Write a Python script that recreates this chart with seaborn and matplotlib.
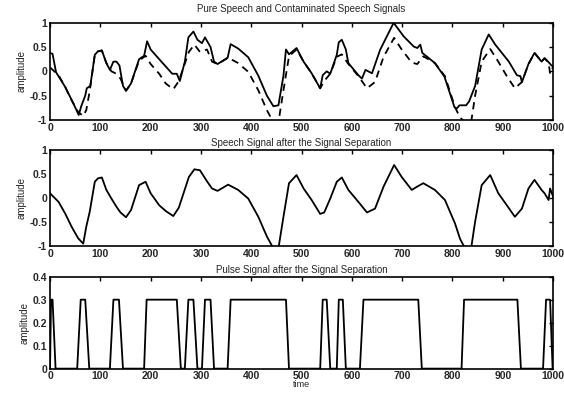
import pandas as pd
import matplotlib.pyplot as plt
import seaborn as sns

# pure speech (dashed, top) and separated speech (middle) share a time grid
speech_t = [0, 17, 30, 43, 56, 66, 72, 79, 89, 95, 103, 112, 122, 132, 140, 151, 161,
            177, 190, 200, 217, 230, 245, 256, 276, 287, 298, 312, 322, 333, 354, 374,
            394, 414, 431, 444, 454, 464, 475, 490, 504, 520, 537, 545, 557, 570, 580,
            593, 613, 630, 646, 663, 684, 699, 719, 730, 742, 765, 785, 805, 815, 825,
            837, 845, 858, 875, 891, 908, 924, 938, 951, 963, 977, 983, 991, 994, 1000]
pure_speech = [0.08, -0.08, -0.32, -0.6, -0.84, -0.92, -0.8, -0.4, 0.34, 0.41, 0.43, 0.17,
               0.0, -0.05, -0.15, -0.4, -0.25, 0.22, 0.32, 0.15, -0.05, -0.25, -0.37, -0.2,
               0.4, 0.55, 0.4, 0.45, 0.2, 0.15, 0.28, 0.17, -0.01, -0.39, -0.8, -1.05,
               -1.05, -0.39, 0.31, 0.45, 0.2, -0.04, -0.35, -0.2, -0.05, 0.3, 0.35, 0.15,
               -0.1, -0.35, -0.22, 0.3, 0.69, 0.45, 0.18, 0.15, 0.31, 0.17, -0.1, -0.74,
               -0.95, -1.05, -1.05, -0.5, 0.2, 0.46, 0.2, -0.1, -0.35, -0.22, 0.15, 0.38,
               0.2, 0.27, 0.18, -0.05, 0.1]
separated_speech = [0.1, -0.08, -0.32, -0.6, -0.84, -0.95, -0.6, -0.28, 0.34, 0.41, 0.43,
                    0.17, -0.01, -0.18, -0.3, -0.4, -0.25, 0.27, 0.34, 0.1, -0.15, -0.27,
                    -0.375, -0.2, 0.44, 0.6, 0.58, 0.35, 0.2, 0.15, 0.28, 0.17, -0.01, -0.39,
                    -0.8, -1.05, -1.05, -0.39, 0.31, 0.48, 0.2, -0.04, -0.33, -0.3, -0.01,
                    0.34, 0.43, 0.17, -0.08, -0.3, -0.22, 0.24, 0.69, 0.44, 0.17, 0.24, 0.31,
                    0.17, -0.04, -0.53, -0.85, -1.05, -1.05, -0.49, 0.27, 0.48, 0.1, -0.15,
                    -0.39, -0.22, 0.2, 0.38, 0.17, 0.1, -0.04, 0.2, 0.03]

# contaminated speech (solid, top)
mixed_t = [0, 5, 12, 30, 45, 57, 62, 70, 73, 80, 89, 95, 103, 112, 119, 126, 132, 138,
           145, 151, 161, 177, 187, 193, 200, 217, 243, 252, 258, 268, 275, 285, 293, 302,
           308, 319, 326, 333, 353, 359, 374, 394, 414, 431, 444, 454, 464, 469, 475, 490,
           504, 520, 537, 542, 550, 557, 570, 574, 580, 588, 593, 613, 620, 627, 640, 656,
           683, 703, 723, 730, 736, 740, 765, 784, 804, 808, 814, 827, 833, 845, 858, 872,
           885, 912, 928, 935, 938, 951, 963, 977, 983, 990, 996, 1000]
mixed_speech = [0.38, 0.36, -0.02, -0.32, -0.63, -0.9, -0.72, -0.5, -0.35, -0.3, 0.34, 0.41,
                0.43, 0.17, 0.03, 0.2, 0.2, 0.12, -0.3, -0.4, -0.25, 0.25, 0.32, 0.62, 0.45,
                0.25, -0.05, -0.05, -0.2, 0.2, 0.7, 0.82, 0.65, 0.58, 0.7, 0.5, 0.2, 0.15,
                0.28, 0.56, 0.47, 0.29, -0.09, -0.5, -0.72, -0.7, -0.09, 0.45, 0.35, 0.48,
                0.2, -0.04, -0.35, -0.08, 0.0, -0.05, 0.34, 0.6, 0.65, 0.45, 0.17, -0.08,
                -0.15, 0.03, -0.04, 0.44, 1.0, 0.72, 0.51, 0.48, 0.55, 0.38, 0.17, -0.11,
                -0.74, -0.77, -0.7, -0.7, -0.62, -0.3, 0.45, 0.76, 0.55, 0.2, -0.08, -0.1,
                -0.22, 0.15, 0.38, 0.2, 0.27, 0.2, 0.13, 0.1]

# separated pulse signal (bottom)
pulse_t = [0, 2, 5, 11, 54, 61, 70, 78, 119, 126, 137, 145, 187, 192, 252, 260,
           268, 275, 285, 293, 302, 308, 319, 326, 353, 359, 469, 475, 537, 542, 550, 557,
           570, 574, 582, 588, 616, 623, 732, 739, 818, 823, 929, 936, 980, 986, 994, 999, 1000]
pulse_v = [0, 0.3, 0.3, 0, 0, 0.3, 0.3, 0, 0, 0.3, 0.3, 0, 0, 0.3, 0.3, 0,
           0, 0.3, 0.3, 0, 0, 0.3, 0.3, 0, 0, 0.3, 0.3, 0, 0, 0.3, 0.3, 0,
           0, 0.3, 0.3, 0, 0, 0.3, 0.3, 0, 0, 0.3, 0.3, 0, 0, 0.3, 0.3, 0, 0]

speech = pd.DataFrame({"time": speech_t, "pure": pure_speech, "separated": separated_speech})
mixed = pd.DataFrame({"time": mixed_t, "amp": mixed_speech})
pulse = pd.DataFrame({"time": pulse_t, "amp": pulse_v})

sns.set_style("white")
plt.rcParams["font.family"] = ["Liberation Sans", "DejaVu Sans"]
plt.rcParams["axes.unicode_minus"] = False

fig = plt.figure(figsize=(5.64, 3.93), dpi=100)
ax1 = fig.add_axes([0.0887, 0.695, 0.892, 0.247])
ax2 = fig.add_axes([0.0887, 0.374, 0.892, 0.244])
ax3 = fig.add_axes([0.0887, 0.062, 0.892, 0.234])

lw = 1.3
sns.lineplot(data=mixed, x="time", y="amp", ax=ax1, color="black", lw=lw, sort=False)
sns.lineplot(data=speech, x="time", y="pure", ax=ax1, color="black", lw=lw,
             dashes=False, sort=False, linestyle=(0, (4, 3)))
sns.lineplot(data=speech, x="time", y="separated", ax=ax2, color="black", lw=lw, sort=False)
sns.lineplot(data=pulse, x="time", y="amp", ax=ax3, color="black", lw=lw, sort=False)

titles = ["Pure Speech and Contaminated Speech Signals",
          "Speech Signal after the Signal Separation",
          "Pulse Signal after the Signal Separation"]
pads = [8, 3, 3]
for ax, title, pad in zip([ax1, ax2, ax3], titles, pads):
    ax.set_xlim(0, 1000)
    ax.set_xticks(range(0, 1001, 100))
    ax.set_title(title, fontsize=7, pad=pad)
    ax.set_ylabel("amplitude", fontsize=7, labelpad=2)
    ax.set_xlabel("")
    ax.tick_params(direction="in", top=True, right=True, length=3, width=1,
                   labelsize=7.5, pad=2, color="black")
    for lab in ax.get_xticklabels() + ax.get_yticklabels():
        lab.set_fontweight("bold")
    for s in ax.spines.values():
        s.set_color("black")
        s.set_linewidth(1.2)

for ax in [ax1, ax2]:
    ax.set_ylim(-1, 1)
    ax.set_yticks([-1, -0.5, 0, 0.5, 1])
    ax.set_yticklabels(["-1", "-0.5", "0", "0.5", "1"], fontweight="bold")

ax3.set_ylim(0, 0.4)
ax3.set_yticks([0, 0.1, 0.2, 0.3, 0.4])
ax3.set_yticklabels(["0", "0.1", "0.2", "0.3", "0.4"], fontweight="bold")
ax3.set_xlabel("time", fontsize=6.5, labelpad=-1)

plt.savefig("out.png", dpi=100)
